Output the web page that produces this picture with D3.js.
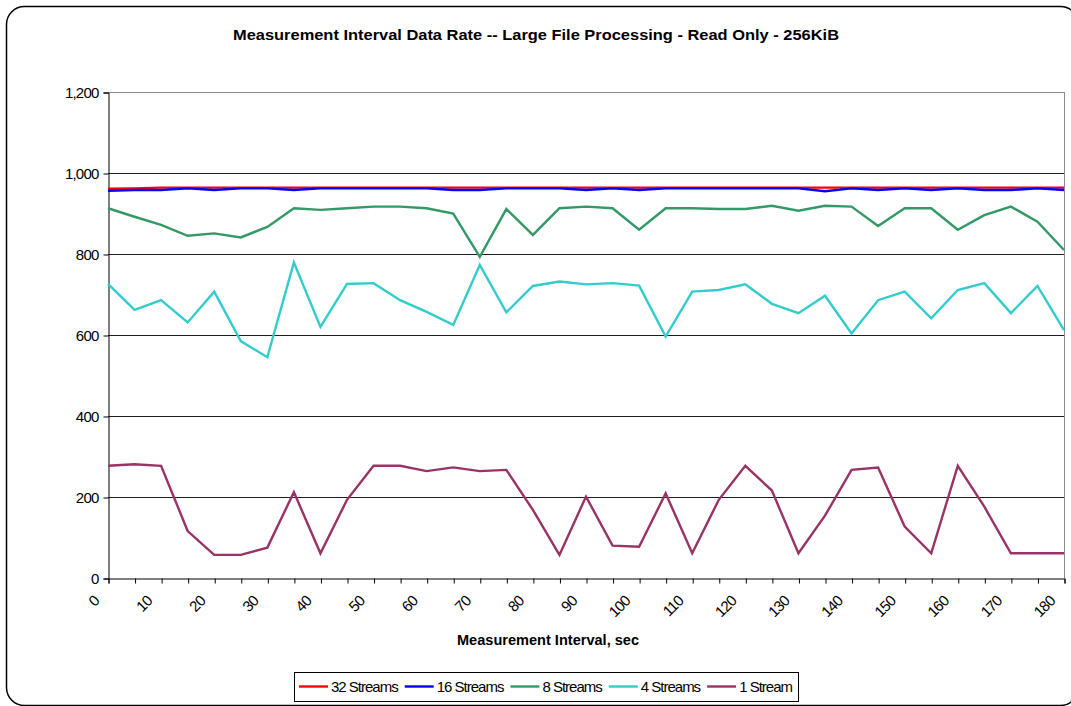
<!DOCTYPE html>
<html>
<head>
<meta charset="utf-8">
<script src="https://cdn.jsdelivr.net/npm/d3@7"></script>
<style>
  body { margin: 0; background: #fff; }
  svg { display: block; font-family: "Liberation Sans", Arial, sans-serif; }
</style>
</head>
<body>
<svg id="chart" width="1071" height="706"></svg>
<script>
// Chart data
const seconds = [0, 5, 10, 15, 20, 25, 30, 35, 40, 45, 50, 55, 60, 65, 70, 75, 80, 85, 90,
                 95, 100, 105, 110, 115, 120, 125, 130, 135, 140, 145, 150, 155, 160, 165, 170, 175, 180];
const xLabels = [0, 10, 20, 30, 40, 50, 60, 70, 80, 90, 100, 110, 120, 130, 140, 150, 160, 170, 180];
const yTicks = [0, 200, 400, 600, 800, 1000, 1200];

const seriesNames = ["32 Streams", "16 Streams", "8 Streams", "4 Streams", "1 Stream"];
const seriesColors = ["#ff0000", "#0000ff", "#339966", "#33cccc", "#993366"];

const streams32 = [961, 962, 964, 964, 964, 964, 964, 964, 964, 964, 964, 964, 964, 964, 964, 964, 964, 964, 964,
                   964, 964, 964, 964, 964, 964, 964, 964, 964, 964, 964, 964, 964, 964, 964, 964, 964, 964];
const streams16 = [956, 958, 958, 962, 958, 962, 962, 958, 962, 962, 962, 962, 962, 958, 958, 962, 962, 962, 958,
                   962, 958, 962, 962, 962, 962, 962, 962, 955, 962, 958, 962, 958, 962, 958, 958, 962, 958];
const streams8 = [913, 892, 872, 845, 851, 841, 867, 913, 909, 913, 917, 917, 913, 900, 793, 911, 847, 913, 917,
                  913, 860, 913, 913, 911, 911, 919, 907, 919, 917, 869, 913, 913, 860, 896, 917, 880, 810];
const streams4 = [726, 662, 686, 631, 707, 585, 545, 779, 620, 726, 728, 686, 657, 625, 773, 656, 721, 732, 725,
                  728, 722, 596, 707, 711, 725, 677, 654, 697, 604, 686, 707, 641, 711, 728, 654, 721, 612];
const streams1 = [277, 281, 277, 116, 57, 57, 75, 212, 61, 193, 277, 277, 264, 273, 264, 267, 168, 57, 201,
                  80, 77, 209, 61, 193, 277, 216, 61, 154, 267, 273, 127, 61, 277, 176, 61, 61, 61];

const seriesValues = [streams32, streams16, streams8, streams4, streams1];

const svg = d3.select("#chart");
const font = "\"Liberation Sans\", Arial, sans-serif";

// Outer rounded frame
svg.append("rect")
    .attr("x", 6.5).attr("y", 6.5)
    .attr("width", 1072).attr("height", 699)
    .attr("rx", 18).attr("ry", 18)
    .attr("fill", "#fff")
    .attr("stroke", "#000")
    .attr("stroke-width", 1.5);

const x = d3.scaleLinear().domain([0, 180]).range([108, 1064]);
const y = d3.scaleLinear().domain([0, 1200]).range([578, 92]);

// Gridlines
svg.append("g")
    .selectAll("line")
    .data(yTicks.filter(d => d > 0))
    .join("line")
    .attr("x1", x(0)).attr("x2", x(180))
    .attr("y1", d => Math.round(y(d)) + 0.5)
    .attr("y2", d => Math.round(y(d)) + 0.5)
    .attr("stroke", d => d === 1200 ? "#8c8c8c" : "#1e1e1e")
    .attr("stroke-width", 1);

// Plot area right border
svg.append("line")
    .attr("x1", Math.round(x(180)) + 0.5).attr("x2", Math.round(x(180)) + 0.5)
    .attr("y1", y(1200)).attr("y2", y(0))
    .attr("stroke", "#8c8c8c");

// Y axis
const yAxis = svg.append("g")
    .attr("transform", `translate(${x(0) + 0.5},0.5)`)
    .call(d3.axisLeft(y).tickValues(yTicks).tickSize(5).tickPadding(5).tickFormat(d3.format(",")));
yAxis.select(".domain").attr("stroke", "#000");
yAxis.selectAll(".tick line").attr("stroke", "#000");
yAxis.selectAll(".tick text")
    .attr("font-family", font).attr("font-size", 15)
    .attr("letter-spacing", -0.8)
    .attr("fill", "#000");

// X axis (a tick for every sample, labels every 10 sec)
const xAxis = svg.append("g")
    .attr("transform", `translate(0.5,${y(0) + 0.5})`)
    .call(d3.axisBottom(x).tickValues(seconds).tickSize(5).tickFormat(""));
xAxis.select(".domain").attr("stroke", "#000");
xAxis.selectAll(".tick line").attr("stroke", "#000");

svg.append("g")
    .selectAll("text")
    .data(xLabels)
    .join("text")
    .attr("transform", d => `translate(${x(d) - 8},${y(0) + 24}) rotate(-45)`)
    .attr("text-anchor", "end")
    .attr("font-family", font).attr("font-size", 15)
    .attr("letter-spacing", -0.8)
    .text(d => d);

// Series lines
const line = d3.line()
    .x((d, i) => x(seconds[i]))
    .y(d => y(d));

svg.append("g")
    .selectAll("path")
    .data(seriesValues)
    .join("path")
    .attr("d", d => line(d))
    .attr("fill", "none")
    .attr("stroke", (d, i) => seriesColors[i])
    .attr("stroke-width", 2.4)
    .attr("stroke-linejoin", "miter");

// Titles
svg.append("text")
    .attr("x", 233).attr("y", 40)
    .attr("font-family", font).attr("font-size", 15).attr("font-weight", "bold")
    .attr("textLength", 606).attr("lengthAdjust", "spacingAndGlyphs")
    .text("Measurement Interval Data Rate -- Large File Processing - Read Only - 256KiB");

svg.append("text")
    .attr("x", 457).attr("y", 645)
    .attr("font-family", font).attr("font-size", 15).attr("font-weight", "bold")
    .attr("textLength", 182).attr("lengthAdjust", "spacingAndGlyphs")
    .text("Measurement Interval, sec");

// Y title, clipped like the original
svg.append("clipPath").attr("id", "ytitle-clip")
    .append("rect").attr("x", 0).attr("y", 282).attr("width", 100).attr("height", 200);

svg.append("text")
    .attr("clip-path", "url(#ytitle-clip)")
    .attr("transform", "translate(41,394) rotate(-90)")
    .attr("font-family", font).attr("font-size", 15).attr("font-weight", "bold")
    .attr("letter-spacing", -0.5)
    .text("Data Rate, MB/s");

// Legend
const legend = svg.append("g");
legend.append("rect")
    .attr("x", 294.5).attr("y", 672.5)
    .attr("width", 504).attr("height", 29)
    .attr("fill", "#fff").attr("stroke", "#000");

let lx = 299;
seriesNames.forEach((name, i) => {
    legend.append("line")
        .attr("x1", lx).attr("x2", lx + 29)
        .attr("y1", 686.5).attr("y2", 686.5)
        .attr("stroke", seriesColors[i]).attr("stroke-width", 2.4);
    const t = legend.append("text")
        .attr("x", lx + 32).attr("y", 691.5)
        .attr("font-family", font).attr("font-size", 15)
        .attr("letter-spacing", -1)
        .text(name);
    lx += 32 + t.node().getComputedTextLength() + 7;
});
</script>
</body>
</html>
